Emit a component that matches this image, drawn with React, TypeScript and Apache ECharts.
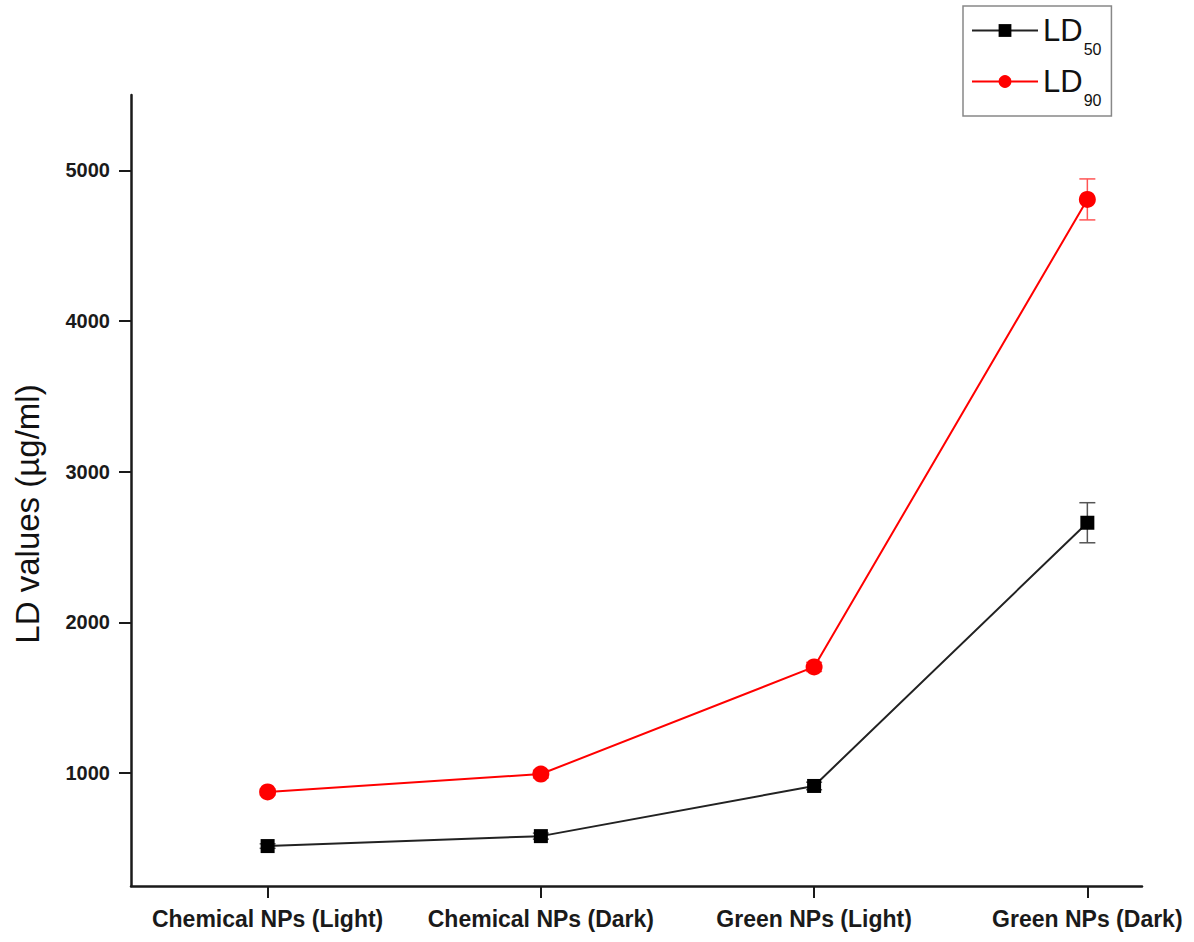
import React, { useEffect, useRef } from "react";
import * as echarts from "echarts";

const categories = ["Chemical NPs (Light)", "Chemical NPs (Dark)", "Green NPs (Light)", "Green NPs (Dark)"];
const ld50 = [515, 581, 914, 2661];
const ld90 = [874, 993, 1704, 4807];
const ld50Err = [15, 20, 25, 133];
const ld90Err = [20, 25, 30, 136];
const yTicks = [1000, 2000, 3000, 4000, 5000];
const xTicks = [1, 2, 3, 4];

const FONT = "'Liberation Sans', Arial, sans-serif";

function errRender(color: string) {
  return (params: any, api: any) => {
    const x = api.value(0);
    const y = api.value(1);
    const e = api.value(2);
    const top = api.coord([x, y + e]);
    const bot = api.coord([x, y - e]);
    const w = 8;
    const style = { stroke: color, lineWidth: 1.5 };
    return {
      type: "group",
      children: [
        { type: "line", shape: { x1: top[0], y1: top[1], x2: bot[0], y2: bot[1] }, style },
        { type: "line", shape: { x1: top[0] - w, y1: top[1], x2: top[0] + w, y2: top[1] }, style },
        { type: "line", shape: { x1: bot[0] - w, y1: bot[1], x2: bot[0] + w, y2: bot[1] }, style },
      ],
    };
  };
}

export default function App() {
  const ref = useRef<HTMLDivElement>(null);
  useEffect(() => {
    const chart = echarts.init(ref.current!, null, { renderer: "svg" });
    const d50 = ld50.map((v, i) => [xTicks[i], v]);
    const d90 = ld90.map((v, i) => [xTicks[i], v]);
    chart.setOption({
      animation: false,
      backgroundColor: "#fff",
      grid: { left: 131, right: 52, top: 95, bottom: 56 },
      xAxis: {
        type: "value",
        min: 0.5,
        max: 4.2,
        splitLine: { show: false },
        axisLine: { lineStyle: { color: "#1a1a1a", width: 2.5 } },
        axisTick: { customValues: xTicks, length: 12, lineStyle: { color: "#1a1a1a", width: 2 } },
        axisLabel: {
          customValues: xTicks,
          formatter: (v: number) => categories[Math.round(v) - 1] ?? "",
          fontFamily: FONT,
          fontWeight: "bold",
          fontSize: 23,
          color: "#1a1a1a",
          margin: 21,
        },
      },
      yAxis: {
        type: "value",
        min: 250,
        max: 5500,
        splitLine: { show: false },
        axisLine: { show: true, lineStyle: { color: "#1a1a1a", width: 2.5 } },
        axisTick: { show: true, customValues: yTicks, length: 12, lineStyle: { color: "#1a1a1a", width: 2 } },
        axisLabel: {
          customValues: yTicks,
          formatter: (v: number) => String(v),
          fontFamily: FONT,
          fontWeight: "bold",
          fontSize: 20,
          color: "#1a1a1a",
          margin: 21,
        },
      },
      graphic: [
        {
          type: "text",
          x: 27,
          y: 514,
          rotation: Math.PI / 2,
          style: {
            text: "LD values (\u00b5g/ml)",
            fontFamily: FONT,
            fontSize: 33,
            fill: "#111",
            align: "center",
            verticalAlign: "middle",
          },
        },
      ],
      legend: {
        left: 963,
        top: 6,
        orient: "vertical",
        padding: [9, 10, 8, 8],
        borderColor: "#888",
        borderWidth: 1.5,
        borderRadius: 0,
        itemWidth: 66,
        itemHeight: 16,
        itemGap: 9,
        data: ["LD50", "LD90"],
        formatter: (name: string) => (name === "LD50" ? "{a|LD}{b|50}" : "{a|LD}{b|90}"),
        textStyle: {
          rich: {
            a: { fontFamily: FONT, fontSize: 31, color: "#111", verticalAlign: "bottom" },
            b: { fontFamily: FONT, fontSize: 16, color: "#111", verticalAlign: "bottom", padding: [0, 0, -11, 1] },
          },
        },
      },
      series: [
        {
          type: "custom",
          name: "err50",
          renderItem: errRender("#555"),
          data: ld50.map((v, i) => [xTicks[i], v, ld50Err[i]]),
          z: 1,
          silent: true,
        },
        {
          type: "custom",
          name: "err90",
          renderItem: errRender("#ff5555"),
          data: ld90.map((v, i) => [xTicks[i], v, ld90Err[i]]),
          z: 1,
          silent: true,
        },
        {
          type: "line",
          name: "LD50",
          data: d50,
          symbol: "rect",
          symbolSize: 14,
          lineStyle: { color: "#222", width: 2 },
          itemStyle: { color: "#000" },
          z: 3,
        },
        {
          type: "line",
          name: "LD90",
          data: d90,
          symbol: "circle",
          symbolSize: 17,
          lineStyle: { color: "#ff0000", width: 2 },
          itemStyle: { color: "#ff0000" },
          z: 3,
        },
      ],
    });
    return () => chart.dispose();
  }, []);
  return <div ref={ref} style={{ position: "fixed", left: 0, top: 0, width: 1194, height: 942 }} />;
}
